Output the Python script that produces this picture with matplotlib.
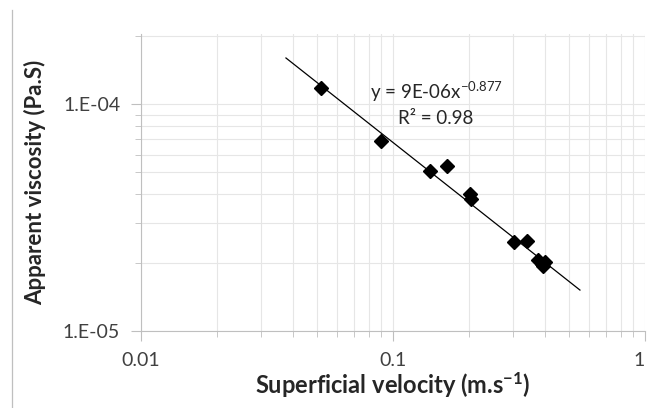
import numpy as np
import matplotlib
matplotlib.use("Agg")
import matplotlib.pyplot as plt
from matplotlib.ticker import LogLocator, NullFormatter

plt.rcParams['font.family'] = ['Lato', 'DejaVu Sans']
plt.rcParams['mathtext.default'] = 'regular'

# measured points
velocity = [0.052, 0.090, 0.140, 0.164, 0.202, 0.204, 0.303, 0.340,
            0.375, 0.390, 0.400, 0.395]
viscosity = [1.18e-4, 6.9e-5, 5.1e-5, 5.33e-5, 4.02e-5, 3.82e-5, 2.47e-5,
             2.50e-5, 2.05e-5, 1.98e-5, 2.02e-5, 1.94e-5]

# power-law trendline (Excel)
trend_coef = 9e-6
trend_exp = -0.877
trend_x = [0.0376, 0.552]

xticks = [0.01, 0.1, 1]
xtick_labels = ['0.01', '0.1', '1']
yticks = [1e-5, 1e-4]
ytick_labels = ['1.E-05', '1.E-04']

grey = '#bfbfbf'
gridc = '#e6e6e6'
txtc = '#262626'

fig = plt.figure(figsize=(6.49, 4.08), dpi=100)
ax = fig.add_axes([0.2173, 0.1887, 0.7765, 0.728])

tx = np.logspace(np.log10(trend_x[0]), np.log10(trend_x[1]), 50)
ax.plot(tx, trend_coef * tx ** trend_exp, color='black', lw=0.9, zorder=3)
ax.plot(velocity, viscosity, 'D', color='black', ms=7, zorder=4)

ax.set_xscale('log')
ax.set_yscale('log')
ax.set_xlim(0.01, 1)
ax.set_ylim(1e-5, 2.04e-4)

ax.set_xticks(xticks)
ax.set_xticklabels(xtick_labels)
ax.set_yticks(yticks)
ax.set_yticklabels(ytick_labels)
ax.xaxis.set_minor_locator(LogLocator(base=10, subs=np.arange(2, 10)))
ax.yaxis.set_minor_locator(LogLocator(base=10, subs=np.arange(2, 10)))
ax.xaxis.set_minor_formatter(NullFormatter())
ax.yaxis.set_minor_formatter(NullFormatter())

ax.grid(True, which='both', color=gridc, lw=0.8)
ax.set_axisbelow(True)
for s in ['top', 'right']:
    ax.spines[s].set_visible(False)
for s in ['left', 'bottom']:
    ax.spines[s].set_color(grey)
ax.tick_params(which='major', length=7, color=grey, labelsize=14,
               labelcolor='#404040', pad=8)
ax.tick_params(axis='x', which='major', pad=8)
ax.tick_params(which='minor', length=4, color=grey)
ax.get_xticklabels()[-1].set_horizontalalignment('right')

ax.set_xlabel('Superficial velocity (m.s$^{-1}$)', fontsize=17,
              fontweight='bold', color=txtc, labelpad=1)
ax.set_ylabel('Apparent viscosity (Pa.S)', fontsize=16,
              fontweight='bold', color=txtc, labelpad=12)

ax.text(0.148, 1.13e-4, 'y = 9E-06x$^{-0.877}$', fontsize=13.5, color=txtc,
        ha='center', va='center')
ax.text(0.148, 8.67e-5, 'R² = 0.98', fontsize=13.5, color=txtc,
        ha='center', va='center')

fig.add_artist(plt.Line2D([12 / 649, 12 / 649], [0, 1 - 10 / 408],
                          color=grey, lw=0.9))

fig.savefig('out.png', dpi=100)
